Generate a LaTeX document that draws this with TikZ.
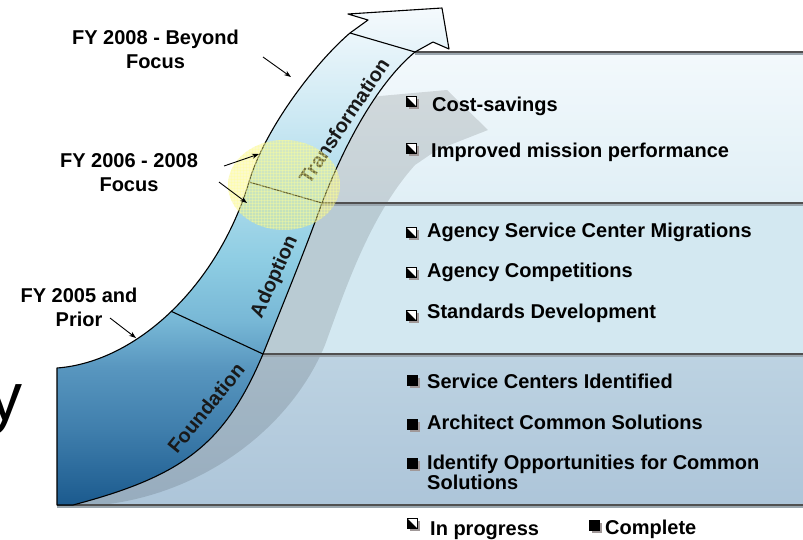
\documentclass[tikz,border=0pt]{standalone}
\usepackage{fontspec}
\setmainfont{Liberation Sans}
\usetikzlibrary{arrows.meta,shadows,patterns}
\definecolor{boxtopA}{HTML}{F3F9FC}
\definecolor{boxtopB}{HTML}{E0EFF6}
\definecolor{boxmid}{HTML}{D3E8F1}
\definecolor{boxbotA}{HTML}{BDD3E2}
\definecolor{boxbotB}{HTML}{ADC5D9}
\definecolor{bandA}{HTML}{1B5A8E}
\definecolor{bandB}{HTML}{3F7EAC}
\definecolor{bandC}{HTML}{5896BF}
\definecolor{bandD}{HTML}{78B8D6}
\definecolor{bandE}{HTML}{8ECDE3}
\definecolor{bandF}{HTML}{A9D9EA}
\definecolor{bandG}{HTML}{CBE8F3}
\definecolor{bandH}{HTML}{F5FAFD}
\definecolor{sepgray}{HTML}{505050}
\definecolor{sepshade}{HTML}{9AA6AE}
\definecolor{bulletshade}{HTML}{A09898}
\definecolor{glow}{HTML}{F6F37A}
\definecolor{glowgrid}{HTML}{FFFF9A}
\pgfdeclareverticalshading{bandshade}{100bp}{color(0bp)=(bandA); color(25bp)=(bandA); color(32.5bp)=(bandB); color(38.8bp)=(bandC); color(43.6bp)=(bandD); color(49.6bp)=(bandE); color(55.7bp)=(bandF); color(63.7bp)=(bandG); color(75bp)=(bandH); color(100bp)=(bandH)}
\tikzset{
  lbl/.style={font=\bfseries\fontsize{20}{24}\selectfont, align=center, inner sep=0pt, anchor=north},
  item/.style={font=\bfseries\fontsize{20}{24}\selectfont, inner sep=0pt, anchor=base west},
  phase/.style={font=\bfseries\fontsize{20}{24}\selectfont, inner sep=0pt, text=black!90},
  pointer/.style={-{Stealth[length=7pt,width=5pt]}, line width=0.9pt},
  sepline/.style={draw=sepgray, line width=1.8pt},
  sepshadow/.style={draw=sepshade, line width=1.2pt},
  bandline/.style={draw=black, line width=1.1pt},
  progbox/.style={minimum size=10pt, inner sep=0pt, draw=black, line width=0.9pt, fill=white,
    drop shadow={shadow xshift=2.5pt, shadow yshift=-2.5pt, fill=bulletshade, opacity=1},
    path picture={\fill[black] (path picture bounding box.north west) -- (path picture bounding box.south west) -- (path picture bounding box.south east) -- cycle;}},
  donebox/.style={minimum size=10pt, inner sep=0pt, draw=black, line width=0.9pt, fill=black,
    drop shadow={shadow xshift=2.5pt, shadow yshift=-2.5pt, fill=bulletshade, opacity=1}}
}
\begin{document}
\begin{tikzpicture}[x=1pt,y=-1pt]
\useasboundingbox (0,0) rectangle (803,539);
\clip (0,0) rectangle (803,539);

% large cut-off letter
\node[font=\fontsize{68}{68}\selectfont, inner sep=0pt, anchor=base west] (ybig) at (-12,420) {y};

% boxes, right of the inner curve
\begin{scope}
  \clip (73,505) .. controls (183,476) and (225,444) .. (263,354)
        .. controls (283,304) and (304,253) .. (322,203)
        .. controls (347,138) and (380,81) .. (415,52)
        -- (810,52) -- (810,505) -- cycle;
  \shade[top color=boxtopA, bottom color=boxtopB] (0,52) rectangle (810,203);
  \fill[boxmid] (0,203) rectangle (810,354);
  \shade[top color=boxbotA, bottom color=boxbotB] (0,354) rectangle (810,505);
\end{scope}

% shadow arrow
\fill[black, opacity=0.12] (65,505) -- (100,505)
  .. controls (200,495) and (290,430) .. (325,345)
  .. controls (345,290) and (370,215) .. (415,165)
  -- (437,150) -- (488,130) -- (447,90) -- (380,96) -- (360,100)
  .. controls (330,160) and (300,240) .. (280,290)
  .. controls (250,370) and (180,470) .. (65,505) -- cycle;

% separators
\coordinate (s0) at (57,505);
\coordinate (s0e) at (810,505);
\coordinate (s1) at (263,354);
\coordinate (s1e) at (810,354);
\coordinate (s2) at (322,203);
\coordinate (s2e) at (810,203);
\coordinate (s3) at (415,52);
\coordinate (s3e) at (810,52);
\draw[sepshadow] ([yshift=-2pt]s0) -- ([yshift=-2pt]s0e);
\draw[sepshadow] ([yshift=-2pt]s1) -- ([yshift=-2pt]s1e);
\draw[sepshadow] ([yshift=-2pt]s2) -- ([yshift=-2pt]s2e);
\draw[sepshadow] ([yshift=-2pt]s3) -- ([yshift=-2pt]s3e);
\draw[sepline] (s0) -- (s0e);
\draw[sepline] (s1) -- (s1e);
\draw[sepline] (s2) -- (s2e);
\draw[sepline] (s3) -- (s3e);

% the band
\path[shading=bandshade, bandline, line join=round]
  (57,505) -- (57,368)
  .. controls (137,362) and (218,285) .. coordinate[pos=0.5] (o1) (249,182)
  .. controls (265,128) and (316,62) .. (350,33)
  -- (368,20) -- (348,14) -- (442,8) -- (449,49) -- (433,42) -- (415,52)
  .. controls (380,81) and (347,138) .. (322,203)
  .. controls (304,253) and (283,304) .. (263,354)
  .. controls (225,444) and (183,476) .. (73,505) -- cycle;
\coordinate (o2) at (249,182);
\coordinate (o3) at (350,33);
\draw[bandline] (o1) -- (s1);
\draw[bandline] (o2) -- (s2);
\draw[bandline] (o3) -- (s3);

% phase labels
\node[phase, rotate=50.8] (found) at (206,408) {Foundation};
\node[phase, rotate=65.8] (adopt) at (275,277) {Adoption};
\node[phase, rotate=56.3] (trans) at (344,121) {Transformation};

% highlight
\fill[glow, opacity=0.4] (284,185) ellipse [x radius=56pt, y radius=45pt];
\fill[pattern=grid, pattern color=glowgrid, opacity=0.35] (284,185) ellipse [x radius=56pt, y radius=45pt];

% left labels and pointers
\node[lbl] (fy08) at (155.5,30) {FY 2008 - Beyond\\Focus};
\node[lbl] (fy06) at (129,153) {FY 2006 - 2008\\Focus};
\node[lbl] (fy05) at (79,288) {FY 2005 and\\Prior};
\coordinate (p1a) at (263,57);  \coordinate (p1b) at (291,77);
\coordinate (p2a) at (224,166); \coordinate (p2b) at (259,154);
\coordinate (p3a) at (219,182); \coordinate (p3b) at (247,203);
\coordinate (p4a) at (110,318); \coordinate (p4b) at (136,338);
\draw[pointer] (p1a) -- (p1b);
\draw[pointer] (p2a) -- (p2b);
\draw[pointer] (p3a) -- (p3b);
\draw[pointer] (p4a) -- (p4b);

% items
\node[progbox] (b1) at (411,101) {};
\node[item] (t1) at (432,111) {Cost-savings};
\node[progbox] (b2) at (411,148) {};
\node[item] (t2) at (431,157) {Improved mission performance};
\node[progbox] (b3) at (411,232) {};
\node[item] (t3) at (427,237) {Agency Service Center Migrations};
\node[progbox] (b4) at (411,272) {};
\node[item] (t4) at (427,277) {Agency Competitions};
\node[progbox] (b5) at (411,315) {};
\node[item] (t5) at (427,318) {Standards Development};
\node[donebox] (b6) at (412,380) {};
\node[item] (t6) at (427,388) {Service Centers Identified};
\node[donebox] (b7) at (412,424) {};
\node[item] (t7) at (427,429) {Architect Common Solutions};
\node[donebox] (b8) at (412,463) {};
\node[item, anchor=north west, align=left, font=\bfseries\fontsize{20}{18}\selectfont] (t8) at (427,455) {Identify Opportunities for Common\\Solutions};

% legend
\node[progbox] (lg1) at (412,523) {};
\node[item] (lt1) at (430,535) {In progress};
\node[donebox] (lg2) at (594,525) {};
\node[item] (lt2) at (605,534) {Complete};
\end{tikzpicture}
\end{document}
